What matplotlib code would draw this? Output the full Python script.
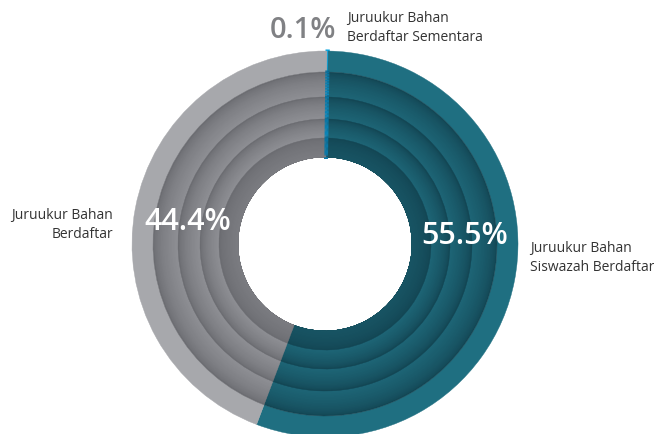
import numpy as np
import matplotlib.pyplot as plt
from matplotlib.colors import to_rgb

# Shares (clockwise from 12 o'clock)
categories = ['Juruukur Bahan\nBerdaftar Sementara',
              'Juruukur Bahan\nSiswazah Berdaftar',
              'Juruukur Bahan\nBerdaftar']
shares = [0.1, 55.5, 44.4]
pct_labels = ['0.1%', '55.5%', '44.4%']

# colours: (outer ring, inner dark, inner light)
outer_cols = ['#00a3e0', '#1f6f81', '#a7a8ac']
dark_cols = ['#0a6f9a', '#134654', '#6b6c71']
light_cols = ['#0c86b8', '#1d6475', '#8d8e93']

plt.rcParams['font.family'] = ['Open Sans', 'DejaVu Sans']

fig = plt.figure(figsize=(6.54, 4.34), dpi=100)
ax = fig.add_axes([0, 0, 1, 1])
ax.set_xlim(0, 654)
ax.set_ylim(0, 434)
ax.set_aspect('equal')
ax.axis('off')

cx, cy = 325, 434 - 244
ring_edges = [193, 172, 147, 125, 106, 87]


def mix(c1, c2, t):
    a = np.array(to_rgb(c1))
    b = np.array(to_rgb(c2))
    return tuple(a + (b - a) * t)


def fix_edges(wedges):
    # edge in face colour hides seams; tiny slice gets a wider edge
    for i, wd in enumerate(wedges):
        wd.set_edgecolor(wd.get_facecolor())
        wd.set_linewidth(2.2 if i == 0 else 0.3)


# outer flat ring
w, _ = ax.pie(shares, radius=ring_edges[0], center=(cx, cy), startangle=89.4,
              counterclock=False, colors=outer_cols,
              wedgeprops=dict(width=ring_edges[0] - ring_edges[1]))
fix_edges(w)

# inner rings with shading: dark at outer edge, lighter inward
nsub = 16
n_inner = len(ring_edges) - 2
for k in range(1, len(ring_edges) - 1):
    r_out = ring_edges[k]
    r_in = ring_edges[k + 1]
    step = (r_out - r_in) / nsub
    # innermost ring is flatter / darker
    strength = 0.45 if k == n_inner else 1.0
    for s in range(nsub):
        t = s / (nsub - 1)
        t = (t ** 0.6) * strength
        cols = [mix(d, l, t) for d, l in zip(dark_cols, light_cols)]
        r = r_out - s * step
        w, _ = ax.pie(shares, radius=r, center=(cx, cy), startangle=89.4,
                      counterclock=False, colors=cols,
                      wedgeprops=dict(width=r - r_in))
        fix_edges(w)

ax.set_xlim(0, 654)
ax.set_ylim(0, 434)

# percentage labels
ax.text(303, 434 - 30, pct_labels[0], color='#808184', fontsize=21,
        fontweight='semibold', ha='center', va='center')
ax.text(465, 434 - 236, pct_labels[1], color='white', fontsize=22,
        fontweight='semibold', ha='center', va='center')
ax.text(188, 434 - 222, pct_labels[2], color='white', fontsize=22,
        fontweight='semibold', ha='center', va='center')

# category labels
ax.text(347, 434 - 28, categories[0], color='#333333', fontsize=10,
        ha='left', va='center', linespacing=1.3)
ax.text(530, 434 - 258, categories[1], color='#333333', fontsize=10,
        ha='left', va='center', linespacing=1.3)
ax.text(113, 434 - 225, categories[2], color='#333333', fontsize=10,
        ha='right', va='center', linespacing=1.3, multialignment='right')

fig.savefig('out.png', dpi=100)
